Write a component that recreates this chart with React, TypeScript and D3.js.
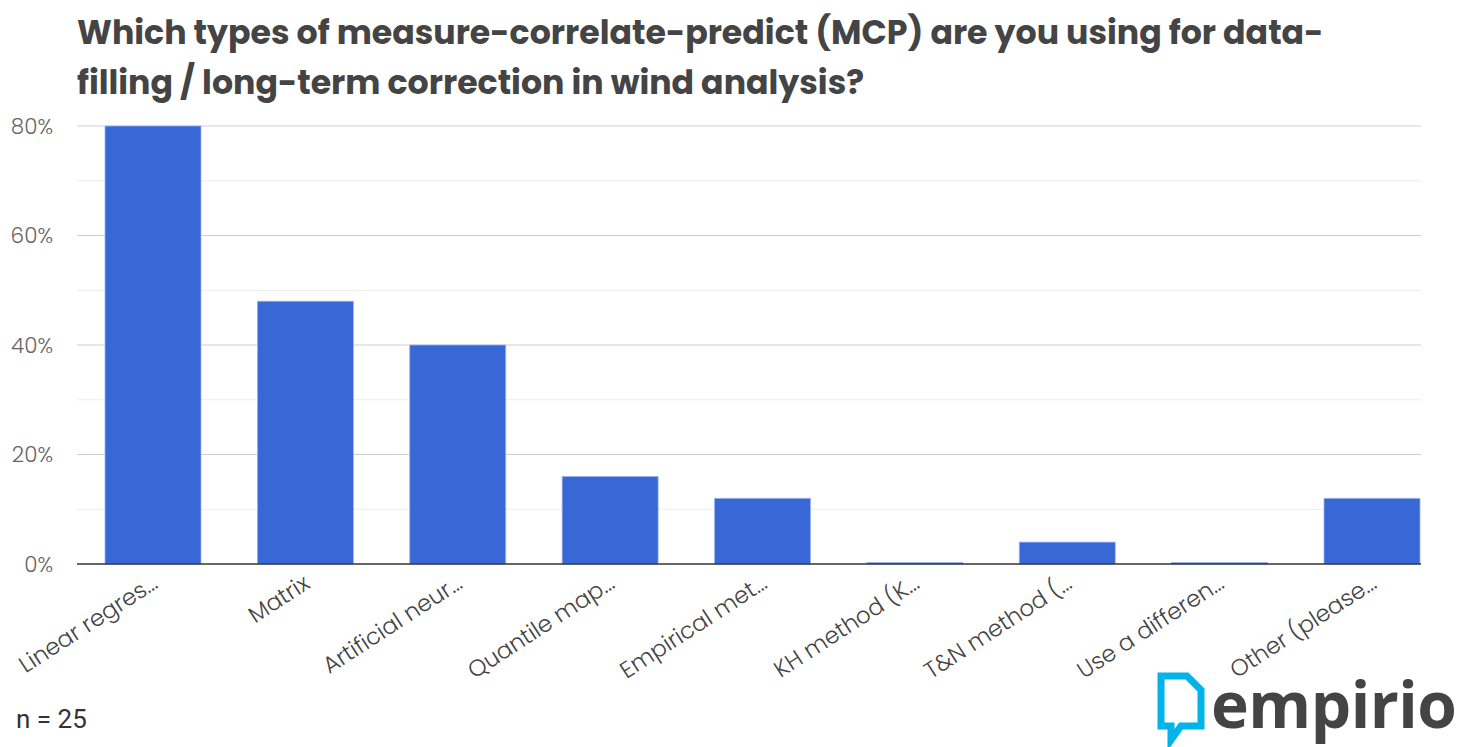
import React from "react";
import * as d3 from "d3";

const categories = [
  "Linear regres...",
  "Matrix",
  "Artificial neur...",
  "Quantile map...",
  "Empirical met...",
  "KH method (K...",
  "T&N method (...",
  "Use a differen...",
  "Other (please...",
];
const values = [80, 48, 40, 16, 12, 0, 4, 0, 12];
const majorTicks = [0, 20, 40, 60, 80];
const minorTicks = [10, 30, 50, 70];
const titleLines = [
  "Which types of measure-correlate-predict (MCP) are you using for data-",
  "filling / long-term correction in wind analysis?",
];

const W = 1459;
const H = 747;
const plotLeft = 77;
const plotRight = 1421;
const y0 = 564;
const yTop = 126;

export default function App() {
  const x = d3.scaleBand<string>().domain(categories).range([105, 1420]).paddingInner(0.37).paddingOuter(0);
  const y = d3.scaleLinear().domain([0, 80]).range([y0, yTop]);
  const font = "Poppins, 'Open Sans', 'Noto Sans', sans-serif";
  return (
    <svg width={W} height={H} style={{ position: "absolute", left: 0, top: 0, background: "#fff" }}>
      <rect width={W} height={H} fill="#fff" />
      {titleLines.map((t, i) => (
        <text key={i} x={77} y={44 + i * 50} fontFamily={font} fontWeight={700} fontSize={33.2} fill="#444">
          {t}
        </text>
      ))}
      {minorTicks.map((t) => (
        <line key={"m" + t} x1={plotLeft} x2={plotRight} y1={y(t)} y2={y(t)} stroke="#ececec" strokeWidth={1} />
      ))}
      {majorTicks.filter((t) => t > 0).map((t) => (
        <line key={"M" + t} x1={plotLeft} x2={plotRight} y1={y(t)} y2={y(t)} stroke="#cfcfcf" strokeWidth={1} />
      ))}
      {majorTicks.map((t) => (
        <text key={"l" + t} x={53} y={y(t) + 7.5} textAnchor="end" fontFamily={font} fontSize={21.5} fontWeight={300} fill="#666">
          {t + "%"}
        </text>
      ))}
      {categories.map((c, i) => {
        const v = values[i];
        const top = y(v);
        const h = Math.max(y0 - top, 1.5);
        return (
          <rect key={c} x={x(c)!} y={y0 - h} width={x.bandwidth()} height={h} fill="#3867d6" stroke="#9db5ee" strokeWidth={0.8} />
        );
      })}
      <line x1={plotLeft} x2={plotRight} y1={y0} y2={y0} stroke="#333" strokeWidth={1.5} />
      {categories.map((c) => {
        const cx = x(c)! + x.bandwidth() / 2 + 6;
        return (
          <text key={"x" + c} x={cx} y={587} transform={`rotate(-33, ${cx}, 587)`} textAnchor="end" fontFamily={font} fontSize={23} fontWeight={300} fill="#444">
            {c}
          </text>
        );
      })}
      <text x={16} y={728} fontFamily="Roboto, sans-serif" fontSize={26} fill="#333">n = 25</text>
      <g transform="translate(1157,672)">
        <path d="M4,4 H30 L44,18 V54 H24 L14,68 V54 H4 Z" fill="none" stroke="#00b4ea" strokeWidth={7} strokeLinejoin="miter" />
      </g>
      <text x={1211} y={728} fontFamily="'Open Sans', sans-serif" fontWeight={700} fontSize={64} fill="#444" letterSpacing={-0.5}>
        empirio
      </text>
    </svg>
  );
}
